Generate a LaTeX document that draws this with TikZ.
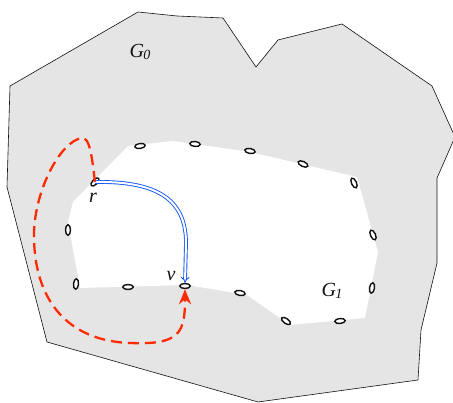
\documentclass[tikz,border=0pt]{standalone}
\usepackage{fontspec}
\setmainfont{Liberation Serif}
\usetikzlibrary{arrows.meta,shapes.geometric}
\definecolor{region}{HTML}{E5E5E5}
\definecolor{walk}{HTML}{FF2A00}
\definecolor{route}{HTML}{1458F5}
\definecolor{ink}{HTML}{111111}
\newcommand{\graphlab}[1]{G\kern-0.5pt\raisebox{-2.5pt}{\fontsize{14}{14}\selectfont #1}}

\begin{document}
\begin{tikzpicture}[x=1pt, y=1pt, ink,
  font=\fontsize{20}{23}\selectfont\itshape,
  hole/.style={ellipse, draw=ink, fill=white, line width=1.4pt,
               minimum width=10.5pt, minimum height=5pt, inner sep=0pt},
  lab/.style={inner sep=0pt}]
\useasboundingbox (0,0) rectangle (453,403);

% outer region G0
\draw[line width=0.6pt, fill=region]
  (10,317) -- (138,391) -- (177,387) -- (223,385) -- (256,336) -- (278,363)
  -- (342,379) -- (432,317) -- (455,266) -- (437,225) -- (437,140)
  -- (421,73) -- (418,23) -- (258,1) -- (47,61) -- (7,216) -- cycle;

% inner face G1
\fill[white]
  (128,257) -- (173,262) -- (250,251) -- (357,226) -- (378,151) -- (365,85)
  -- (290,78) -- (247,108) -- (187,118) -- (80,115) -- (68,181) -- (73,201)
  -- cycle;

% holes along the boundary
\node[hole, rotate=8]   (h1)  at (140,257) {};
\node[hole, rotate=-5]  (h2)  at (195,259) {};
\node[hole, rotate=-10] (h3)  at (250,252) {};
\node[hole, rotate=-25] (h4)  at (303,239) {};
\node[hole, rotate=-65] (h5)  at (354,220) {};
\node[hole, rotate=-65] (h6)  at (373,168) {};
\node[hole, rotate=80]  (h7)  at (372,115) {};
\node[hole, rotate=5]   (h8)  at (340,82)  {};
\node[hole, rotate=-35] (h9)  at (286,82)  {};
\node[hole, rotate=-10] (h10) at (240,110) {};
\node[hole]             (v)   at (185,117) {};
\node[hole]             (h11) at (128,116) {};
\node[hole, rotate=85]  (h12) at (76,119)  {};
\node[hole, rotate=90]  (h13) at (68,173)  {};
\node[hole, rotate=45]  (r)   at (95,221)  {};

% labels
\node[lab] (g0) at (140,351) {\graphlab{0}};
\node[lab] (g1) at (332,112) {\graphlab{1}};
\node[lab] (rl) at (93,205)  {r};
\node[lab] (vl) at (171,127) {v};

% blue path from r to v
\draw[route, line width=0.9pt, double=white, double distance=2pt,
      -{Implies[length=8pt,width=11pt]}]
  (r.center) .. controls (155,222) and (186,205) .. (186,160) -- (v.north);

% red dashed walk round the outside
\draw[walk, line width=2.3pt, dash pattern=on 11pt off 6pt,
      -{Stealth[length=15pt,width=12pt]}]
  (r.center) .. controls (92,245) and (90,266) .. (82,265)
  .. controls (60,262) and (33,210) .. (34,165)
  .. controls (35,100) and (70,62) .. (130,60)
  .. controls (180,58) and (185,70) .. (v.south);

\end{tikzpicture}
\end{document}
